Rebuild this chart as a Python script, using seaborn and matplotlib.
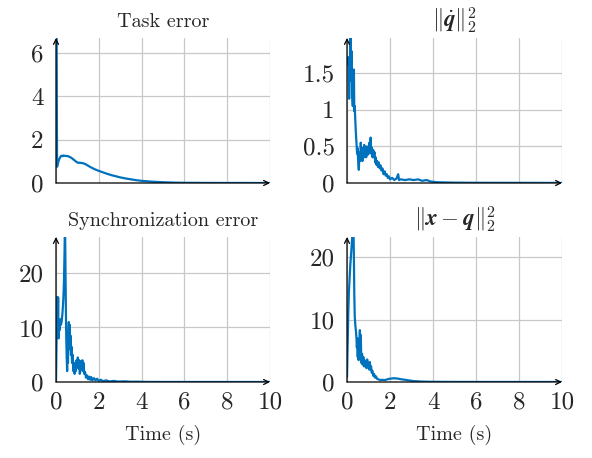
import matplotlib
matplotlib.use("Agg")
import matplotlib.pyplot as plt
import seaborn as sns

# ----------------------------------------------------------------------
# Data
# ----------------------------------------------------------------------
task_t = [0.00, 0.05, 0.10, 0.15, 0.20, 0.25, 0.30, 0.35, 0.40, 0.45, 0.50,
          0.55, 0.60, 0.65, 0.70, 0.75, 0.80, 0.85, 0.90, 0.95, 1.00, 1.05,
          1.10, 1.15, 1.20, 1.25, 1.30, 1.40, 1.50, 1.60, 1.70, 1.80, 1.90,
          2.00, 2.20, 2.40, 2.60, 2.80, 3.00, 3.25, 3.50, 3.75, 4.00, 4.50,
          5.00, 5.50, 6.00, 7.00, 8.00, 10.00]
task_err = [15.0, 0.75, 0.95, 1.10, 1.20, 1.26, 1.24, 1.27, 1.25, 1.26, 1.24,
            1.25, 1.22, 1.20, 1.17, 1.14, 1.10, 1.06, 1.02, 0.98, 0.95, 0.93,
            0.94, 0.93, 0.92, 0.92, 0.90, 0.86, 0.80, 0.74, 0.69, 0.64, 0.60,
            0.56, 0.49, 0.42, 0.36, 0.31, 0.26, 0.21, 0.17, 0.13, 0.10, 0.06,
            0.035, 0.018, 0.01, 0.004, 0.002, 0.0]

vel_t = [0.00, 0.02, 0.04, 0.06, 0.08, 0.10, 0.12, 0.14, 0.17, 0.19, 0.21,
         0.24, 0.27, 0.30, 0.32, 0.34, 0.36, 0.38, 0.41, 0.44, 0.47, 0.49,
         0.52, 0.55, 0.57, 0.60, 0.62, 0.64, 0.67, 0.70, 0.72, 0.75, 0.78,
         0.80, 0.83, 0.86, 0.89, 0.92, 0.95, 0.98, 1.01, 1.04, 1.07, 1.10,
         1.13, 1.16, 1.19, 1.22, 1.25, 1.28, 1.31, 1.34, 1.37, 1.40, 1.44,
         1.48, 1.52, 1.56, 1.60, 1.65, 1.70, 1.75, 1.80, 1.85, 1.90, 1.95,
         2.00, 2.10, 2.20, 2.30, 2.38, 2.42, 2.50, 2.70, 2.90, 3.10, 3.30,
         3.50, 3.70, 3.90, 4.20, 5.00, 6.00, 8.00, 10.00]
vel_sq = [1.70, 1.62, 1.72, 1.66, 1.70, 1.15, 1.62, 1.70, 2.60, 1.40, 1.80,
          1.20, 1.05, 1.50, 1.55, 0.98, 1.05, 0.90, 0.70, 0.55, 0.40, 0.48,
          0.30, 0.18, 0.35, 0.42, 0.30, 0.55, 0.35, 0.48, 0.30, 0.45, 0.35,
          0.52, 0.38, 0.47, 0.35, 0.50, 0.38, 0.45, 0.40, 0.55, 0.42, 0.62,
          0.40, 0.48, 0.35, 0.45, 0.38, 0.42, 0.28, 0.35, 0.25, 0.30, 0.22,
          0.28, 0.20, 0.24, 0.17, 0.20, 0.12, 0.16, 0.10, 0.12, 0.07, 0.09,
          0.05, 0.07, 0.04, 0.06, 0.12, 0.04, 0.05, 0.04, 0.05, 0.04, 0.05,
          0.03, 0.04, 0.02, 0.01, 0.005, 0.003, 0.002, 0.001]

sync_t = [0.00, 0.03, 0.06, 0.08, 0.10, 0.12, 0.14, 0.17, 0.20, 0.23, 0.26,
          0.30, 0.34, 0.37, 0.40, 0.42, 0.44, 0.46, 0.48, 0.50, 0.52, 0.54,
          0.56, 0.58, 0.60, 0.62, 0.64, 0.66, 0.68, 0.70, 0.72, 0.75, 0.78,
          0.81, 0.84, 0.87, 0.90, 0.93, 0.96, 0.99, 1.02, 1.05, 1.08, 1.11,
          1.14, 1.17, 1.20, 1.23, 1.26, 1.29, 1.32, 1.36, 1.40, 1.45, 1.50,
          1.55, 1.60, 1.65, 1.70, 1.78, 1.85, 1.92, 2.00, 2.10, 2.20, 2.35,
          2.50, 2.70, 2.90, 3.20, 3.50, 3.80, 4.20, 5.00, 7.00, 10.00]
sync_err = [0.3, 9.0, 15.6, 10.0, 15.5, 8.0, 11.0, 9.5, 11.5, 10.5, 11.0,
            12.5, 15.0, 18.0, 24.0, 30.0, 22.0, 14.0, 8.0, 4.5, 2.0, 6.0,
            3.5, 9.0, 11.0, 7.5, 10.5, 6.0, 8.5, 5.0, 6.5, 3.5, 5.0,
            2.0, 3.5, 1.5, 3.0, 2.0, 4.0, 3.0, 4.5, 2.5, 4.0, 1.5,
            2.0, 3.8, 2.5, 4.0, 2.0, 3.5, 1.5, 1.8, 0.8, 1.2, 0.5,
            1.0, 0.4, 0.9, 0.3, 0.7, 0.3, 0.6, 0.2, 0.4, 0.15, 0.3,
            0.1, 0.2, 0.08, 0.12, 0.05, 0.06, 0.02, 0.01, 0.005, 0.002]

pos_t = [0.00, 0.03, 0.06, 0.09, 0.12, 0.15, 0.18, 0.21, 0.24, 0.27, 0.30,
         0.32, 0.34, 0.36, 0.39, 0.42, 0.44, 0.46, 0.48, 0.50, 0.52, 0.54,
         0.56, 0.58, 0.60, 0.62, 0.64, 0.66, 0.68, 0.70, 0.73, 0.76, 0.79,
         0.82, 0.85, 0.88, 0.91, 0.94, 0.97, 1.00, 1.03, 1.06, 1.09, 1.12,
         1.15, 1.18, 1.22, 1.26, 1.30, 1.35, 1.40, 1.48, 1.56, 1.65, 1.75,
         1.85, 1.95, 2.05, 2.20, 2.35, 2.50, 2.70, 2.90, 3.10, 3.40, 3.80,
         4.50, 6.00, 10.00]
pos_err = [0.8, 6.0, 11.0, 14.5, 16.5, 18.5, 20.0, 21.5, 23.0, 26.0, 25.0,
           20.0, 14.0, 10.5, 9.0, 8.0, 7.0, 5.5, 7.0, 4.0, 6.5, 3.5,
           5.5, 7.0, 8.3, 6.0, 7.5, 4.5, 3.0, 4.5, 2.8, 4.0, 2.5,
           3.5, 2.5, 3.0, 2.2, 3.6, 2.5, 2.8, 2.0, 3.2, 2.0, 2.5,
           1.5, 1.8, 1.0, 1.3, 0.7, 0.9, 0.5, 0.4, 0.3, 0.35, 0.3,
           0.4, 0.5, 0.55, 0.6, 0.55, 0.45, 0.35, 0.25, 0.15, 0.08, 0.04,
           0.02, 0.01, 0.005]

x_ticks = [0, 2, 4, 6, 8, 10]
titles = ["Task error", r"$\Vert\dot{\mathbfit{q}}\Vert_2^2$",
          "Synchronization error", r"$\Vert\mathbfit{x}-\mathbfit{q}\Vert_2^2$"]
title_sizes = [14.5, 16.5, 14.5, 16.5]
y_ticks = [[0, 2, 4, 6], [0, 0.5, 1, 1.5], [0, 10, 20], [0, 10, 20]]
y_tick_labels = [["0", "2", "4", "6"], ["0", "0.5", "1", "1.5"],
                 ["0", "10", "20"], ["0", "10", "20"]]
y_max = [6.7, 1.98, 26.6, 23.2]
x_label = "Time (s)"

# ----------------------------------------------------------------------
# Style
# ----------------------------------------------------------------------
sns.set_style("whitegrid")
plt.rcParams["font.family"] = ["cmr10", "DejaVu Serif"]
plt.rcParams["mathtext.fontset"] = "cm"
plt.rcParams["axes.unicode_minus"] = False
plt.rcParams["axes.formatter.use_mathtext"] = True

LINE_COLOR = "#0072BD"
GRID_COLOR = "#c8c8c8"

fig = plt.figure(figsize=(5.92, 4.58), dpi=100)
W, H = 592, 458
boxes = [(56, 38, 270, 183), (347, 38, 562, 183),
         (56, 237, 270, 382), (347, 237, 562, 382)]

series = [(task_t, task_err), (vel_t, vel_sq), (sync_t, sync_err), (pos_t, pos_err)]

for i, ((x0, y0, x1, y1), (t, v)) in enumerate(zip(boxes, series)):
    ax = fig.add_axes([x0 / W, (H - y1) / H, (x1 - x0) / W, (y1 - y0) / H])
    sns.lineplot(x=t, y=v, ax=ax, color=LINE_COLOR, linewidth=1.6)

    ax.set_xlim(0, 10)
    ax.set_ylim(0, y_max[i])
    ax.set_xticks(x_ticks)
    ax.set_yticks(y_ticks[i])
    ax.set_yticklabels(y_tick_labels[i])
    if i >= 2:
        ax.set_xticklabels([str(x) for x in x_ticks])
        ax.set_xlabel(x_label, fontsize=14.5, labelpad=8)
    else:
        ax.set_xticklabels([])

    ax.set_title(titles[i], fontsize=title_sizes[i], pad=8)

    ax.set_facecolor("white")
    ax.grid(True, color=GRID_COLOR, linewidth=0.9)
    for s in ax.spines.values():
        s.set_visible(False)
    ax.tick_params(axis="both", direction="inout", length=4, width=0.8,
                   color="#444444", labelsize=18, pad=5)
    ax.tick_params(axis="y", pad=7)

    # pgfplots-like axis lines with arrows
    ax.annotate("", xy=(1.0, 0), xytext=(0, 0), xycoords="axes fraction",
                arrowprops=dict(arrowstyle="->", color="black", lw=0.9,
                                shrinkA=0, shrinkB=0, mutation_scale=9))
    ax.annotate("", xy=(0, 1.0), xytext=(0, 0), xycoords="axes fraction",
                arrowprops=dict(arrowstyle="->", color="black", lw=0.9,
                                shrinkA=0, shrinkB=0, mutation_scale=9))

fig.savefig("out.png", dpi=100)
